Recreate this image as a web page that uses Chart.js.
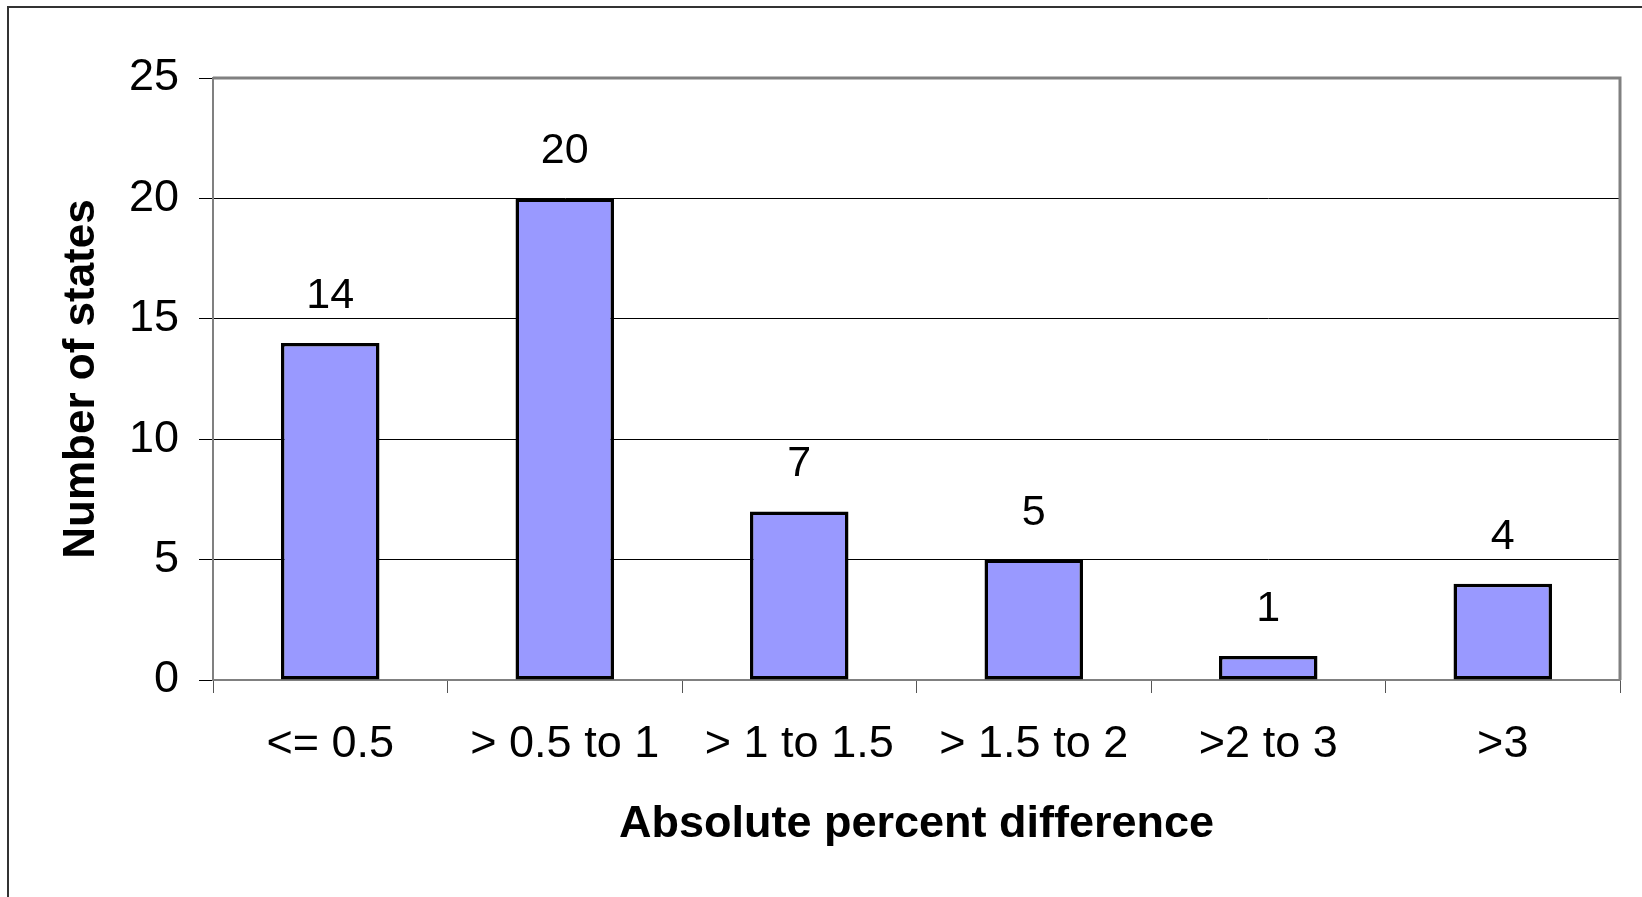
<!DOCTYPE html>
<html>
<head>
<meta charset="utf-8">
<script src="https://cdn.jsdelivr.net/npm/chart.js@4/dist/chart.umd.min.js"></script>
<style>
  html, body { margin: 0; padding: 0; background: #fff; overflow: hidden; }
  #wrap { position: relative; width: 1642px; height: 897px; }
  #frame { position: absolute; left: 7px; top: 6px; width: 2000px; height: 2000px;
           border-left: 2px solid #333; border-top: 2px solid #333; pointer-events: none; }
  canvas { position: absolute; left: 0; top: 0; }
</style>
</head>
<body>
<div id="wrap">
  <canvas id="MyChart" width="1642" height="897"></canvas>
  <div id="frame"></div>
</div>
<script>
const categories = ['<= 0.5', '> 0.5 to 1', '> 1 to 1.5', '> 1.5 to 2', '>2 to 3', '>3'];
const states = [14, 20, 7, 5, 1, 4];
const yTicks = [0, 5, 10, 15, 20, 25];

const FONT = '"Liberation Sans", Arial, sans-serif';

// value labels above bars
const valueLabels = {
  id: 'valueLabels',
  afterDatasetsDraw(chart) {
    const ctx = chart.ctx;
    const meta = chart.getDatasetMeta(0);
    ctx.save();
    ctx.font = '43px ' + FONT;
    ctx.fillStyle = '#000';
    ctx.textAlign = 'center';
    ctx.textBaseline = 'alphabetic';
    meta.data.forEach((bar, i) => {
      ctx.fillText(String(states[i]), bar.x, bar.y - 35);
    });
    ctx.restore();
  }
};

// gray frame on top and right of the plot area
const plotFrame = {
  id: 'plotFrame',
  afterDraw(chart) {
    const a = chart.chartArea;
    const ctx = chart.ctx;
    ctx.save();
    ctx.strokeStyle = '#808080';
    ctx.lineWidth = 3;
    ctx.beginPath();
    ctx.moveTo(a.left, a.top);
    ctx.lineTo(a.right, a.top);
    ctx.lineTo(a.right, a.bottom);
    ctx.stroke();
    ctx.restore();
  }
};

const chart = new Chart(document.getElementById('MyChart'), {
  type: 'bar',
  data: {
    labels: categories,
    datasets: [{
      data: states,
      backgroundColor: '#9999FF',
      borderColor: '#000',
      borderWidth: 3.5,
      borderSkipped: false,
      categoryPercentage: 1,
      barPercentage: 0.42
    }]
  },
  options: {
    responsive: false,
    animation: false,
    devicePixelRatio: 1,
    layout: { padding: { left: 40, top: 78, right: 22, bottom: 40 } },
    plugins: {
      legend: { display: false },
      tooltip: { enabled: false }
    },
    scales: {
      x: {
        grid: { display: true, drawOnChartArea: false, tickLength: 13, color: '#555', offset: true },
        border: { color: '#808080', width: 2 },
        ticks: { color: '#000', padding: 25, font: { family: FONT, size: 45 }, maxRotation: 0 },
        title: {
          display: true,
          text: 'Absolute percent difference',
          color: '#000',
          font: { family: FONT, size: 45, weight: 'bold' },
          padding: { top: 27, bottom: 5 }
        },
        afterFit(scale) { scale.height = 177; }
      },
      y: {
        min: 0,
        max: 25,
        afterBuildTicks(scale) { scale.ticks = yTicks.map(v => ({ value: v })); },
        grid: { color: '#000', lineWidth: 1, tickLength: 14 },
        border: { color: '#808080', width: 2 },
        ticks: { color: '#000', padding: 20, font: { family: FONT, size: 45 } },
        title: {
          display: true,
          text: 'Number of states',
          color: '#000',
          font: { family: FONT, size: 44, weight: 'bold' },
          padding: { top: 15, bottom: 0 }
        },
        afterFit(scale) { scale.width = 213 - 40; }
      }
    }
  },
  plugins: [valueLabels, plotFrame]
});
</script>
</body>
</html>
